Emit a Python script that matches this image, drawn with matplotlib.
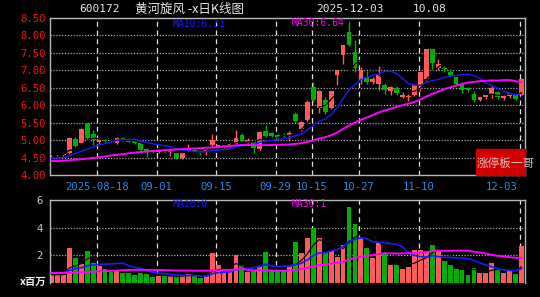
import matplotlib
matplotlib.use("Agg")
import matplotlib.pyplot as plt
import matplotlib.transforms as mtransforms
from matplotlib.patches import Rectangle
import numpy as np
import pandas as pd

# ---- data ----
code = "600172"
name = "黄河旋风 -x日K线图"
last_date = "2025-12-03"
last_value = "10.08"

opens = [4.56, 4.57, 4.58, 4.64, 5.02, 4.92, 5.50, 5.18, 4.95, 5.00,
         5.00, 4.92, 5.06, 5.04, 4.97, 4.91, 4.74, 4.71, 4.65, 4.71,
         4.66, 4.64, 4.48, 4.68, 4.73, 4.66, 4.65, 4.86, 4.78, 4.80,
         4.83, 4.90, 5.15, 4.95, 4.96, 4.74, 5.27, 5.20, 5.16, 5.16,
         5.15, 5.76, 5.32, 5.58, 6.52, 5.92, 6.14, 5.92, 6.88, 7.43,
         8.10, 7.52, 6.71, 6.82, 6.67, 6.62, 6.57, 6.42, 6.48, 6.25,
         6.25, 6.29, 6.58, 6.76, 7.60, 7.06, 7.06, 6.96, 6.80, 6.58,
         6.48, 6.31, 6.15, 6.25, 6.31, 6.37, 6.20, 6.27, 6.29, 6.30]
highs = [4.60, 4.61, 4.63, 5.08, 5.10, 5.36, 5.50, 5.28, 5.03, 5.03,
         5.03, 5.08, 5.08, 5.07, 5.00, 4.93, 4.76, 4.73, 4.74, 4.74,
         4.76, 4.66, 4.65, 4.89, 4.75, 4.68, 4.74, 5.18, 4.87, 4.84,
         4.92, 5.30, 5.20, 5.05, 4.98, 5.25, 5.42, 5.24, 5.18, 5.20,
         5.26, 5.80, 5.55, 6.14, 6.66, 6.45, 6.24, 6.42, 7.02, 7.73,
         8.42, 7.87, 7.10, 6.97, 6.82, 7.11, 6.65, 6.56, 6.56, 6.39,
         6.32, 6.60, 6.98, 7.62, 7.62, 7.32, 7.12, 7.05, 6.82, 6.66,
         6.52, 6.42, 6.25, 6.30, 6.56, 6.40, 6.30, 6.36, 6.32, 6.78]
lows = [4.53, 4.54, 4.55, 4.60, 4.80, 4.88, 5.00, 4.86, 4.90, 4.95,
        4.95, 4.90, 4.98, 4.94, 4.90, 4.67, 4.52, 4.64, 4.62, 4.64,
        4.55, 4.45, 4.46, 4.66, 4.64, 4.58, 4.57, 4.84, 4.74, 4.76,
        4.80, 4.88, 4.94, 4.93, 4.64, 4.72, 5.08, 5.08, 5.06, 5.08,
        4.98, 5.50, 5.25, 5.50, 6.10, 5.79, 5.74, 5.88, 6.57, 7.18,
        7.70, 6.94, 6.62, 6.62, 6.60, 6.44, 6.32, 6.30, 6.28, 6.20,
        6.12, 6.27, 6.40, 6.70, 7.04, 7.02, 6.94, 6.84, 6.54, 6.36,
        6.38, 6.10, 6.12, 6.18, 6.20, 6.18, 6.16, 6.22, 6.16, 6.28]
closes = [4.58, 4.59, 4.60, 5.06, 4.84, 5.32, 5.05, 5.00, 4.99, 4.97,
          4.98, 5.05, 5.00, 4.96, 4.92, 4.72, 4.70, 4.67, 4.72, 4.68,
          4.70, 4.48, 4.63, 4.76, 4.68, 4.62, 4.71, 5.00, 4.85, 4.82,
          4.89, 5.07, 4.98, 5.00, 4.78, 5.24, 5.12, 5.12, 5.10, 5.12,
          5.20, 5.56, 5.53, 6.08, 6.14, 6.42, 5.81, 6.40, 7.02, 7.72,
          7.72, 7.06, 7.00, 6.67, 6.76, 6.86, 6.43, 6.52, 6.36, 6.29,
          6.27, 6.57, 6.95, 7.60, 7.20, 7.18, 7.04, 6.86, 6.62, 6.43,
          6.43, 6.15, 6.23, 6.29, 6.48, 6.25, 6.26, 6.34, 6.18, 6.76]
# volume, millions of shares
volumes = [0.60, 0.60, 0.60, 2.55, 1.83, 1.40, 2.34, 1.47, 1.20, 1.00,
           0.80, 0.96, 0.75, 0.75, 0.60, 0.75, 0.65, 0.41, 0.48, 0.48,
           0.48, 0.48, 0.55, 0.67, 0.48, 0.36, 0.50, 2.17, 1.33, 0.72,
           0.80, 2.05, 1.33, 0.80, 0.90, 1.33, 2.24, 0.84, 0.84, 0.84,
           1.28, 2.96, 2.19, 3.28, 3.98, 3.28, 2.24, 2.29, 1.88, 2.72,
           5.47, 4.24, 3.28, 2.55, 1.81, 2.96, 2.19, 1.33, 1.33, 0.99,
           1.13, 2.36, 2.41, 2.24, 2.77, 2.34, 1.57, 1.28, 1.04, 0.92,
           0.60, 1.08, 0.70, 0.75, 1.47, 0.92, 0.75, 0.84, 0.67, 2.65]

# moving averages before the window is full (history is off-screen)
ma10_head = [4.48, 4.49, 4.50, 4.55, 4.62, 4.68, 4.74, 4.80, 4.86]
ma30_head = [4.40, 4.40, 4.41, 4.42, 4.44, 4.45, 4.47, 4.49, 4.51, 4.53,
             4.56, 4.58, 4.60, 4.62, 4.64, 4.66, 4.67, 4.69, 4.70, 4.71,
             4.72, 4.73, 4.74, 4.75, 4.76, 4.77, 4.78, 4.79, 4.80]
vma10_head = [0.75, 0.75, 0.74, 0.90, 1.05, 1.10, 1.25, 1.30, 1.35]
vma30_head = [0.72, 0.72, 0.73, 0.74, 0.76, 0.78, 0.80, 0.82, 0.84, 0.86,
              0.88, 0.90, 0.92, 0.94, 0.95, 0.95, 0.95, 0.95, 0.94, 0.93,
              0.92, 0.91, 0.90, 0.90, 0.89, 0.89, 0.89, 0.90, 0.91]

tick_dates = ["2025-08-18", "2025-09-01", "2025-09-15", "2025-09-29",
              "2025-10-15", "2025-10-27", "2025-11-10", "2025-12-03"]
tick_labels = ["2025-08-18", "09-01", "09-15", "09-29",
               "10-15", "10-27", "11-10", "12-03"]
price_ticks = [4.0, 4.5, 5.0, 5.5, 6.0, 6.5, 7.0, 7.5, 8.0, 8.5]
vol_ticks = [2, 4, 6]

ma10_label = "MA10:6.31"
ma30_label = "MA30:6.64"
vma10_label = "MA10:0"
vma30_label = "MA30:1"
badge = "涨停板一哥"
vol_unit = "x百万"

# trading days: weekdays without the October holiday
days = pd.bdate_range("2025-08-06", "2025-12-03")
days = days[(days < "2025-10-01") | (days > "2025-10-08")]
tick_idx = [days.get_loc(pd.Timestamp(d)) for d in tick_dates]


def ma(values, n, head):
    s = pd.Series(values).rolling(n).mean()
    s.iloc[:len(head)] = head
    return s.values


RED = "#ff5a5a"
GREEN = "#00b000"
BLUE = "#1a1aff"
MAGENTA = "#ff00ff"
FRAME = "#b8b8b8"
MONO = "DejaVu Sans Mono"
CJK = ["Noto Sans CJK SC", "DejaVu Sans"]

W, H = 540, 297
fig = plt.figure(figsize=(W / 100, H / 100), dpi=100, facecolor="black")


def ftext(x, y, s, **kw):
    fig.text(x / W, 1 - y / H, s, va="center", **kw)


x = np.arange(len(closes))
o = np.array(opens)
c = np.array(closes)
up = c >= o
colors = np.where(up, RED, GREEN)
xlim = (-0.25, 79.58)

# ---- price panel ----
ax = fig.add_axes([50 / W, 1 - 175 / H, 475 / W, 157 / H], facecolor="black")
ax.set_xlim(*xlim)
ax.set_ylim(4.0, 8.5)
for yv in price_ticks[1:-1]:
    ax.axhline(yv, color="#a8a8a8", lw=0.9, ls=(0, (1, 1.3)), zorder=1)
for i in tick_idx:
    ax.axvline(i - 0.3, color="#e0e0e0", lw=0.9, ls=(0, (4, 3)), zorder=1)

ax.vlines(x, lows, highs, colors=colors, lw=1, zorder=2)
ax.bar(x, np.maximum(np.abs(c - o), 0.012), bottom=np.minimum(o, c),
       width=0.8, color=colors, lw=0, zorder=3)
ax.plot(x, pd.Series(closes).rolling(5, min_periods=1).mean(), color="black", lw=0.9, zorder=4)
ax.plot(x, ma(closes, 10, ma10_head), color=BLUE, lw=1.0, zorder=4)
ax.plot(x, ma(closes, 30, ma30_head), color=MAGENTA, lw=1.4, zorder=4)

ax.set_yticks(price_ticks)
ax.set_yticklabels([f"{v:.2f}" for v in price_ticks], family=MONO, fontsize=7.6, color="#ff1010")
ax.set_xticks([i - 0.3 for i in tick_idx])
ax.set_xticklabels(tick_labels, family=MONO, fontsize=7.6, color="#2a8ae8")
ax.tick_params(length=0, pad=3)
ax.tick_params(axis="x", pad=5)
lab = ax.get_xticklabels()[-1]
lab.set_ha("right")
lab.set_transform(lab.get_transform() + mtransforms.ScaledTranslation(-0.02, 0, fig.dpi_scale_trans))
for sp in ax.spines.values():
    sp.set_color(FRAME)
    sp.set_linewidth(1)

# ---- volume panel ----
axv = fig.add_axes([50 / W, 1 - 283 / H, 475 / W, 83 / H], facecolor="black")
axv.set_xlim(*xlim)
axv.set_ylim(0, 6)
for yv in vol_ticks[:-1]:
    axv.axhline(yv, color="#a8a8a8", lw=0.9, ls=(0, (1, 1.3)), zorder=1)
for i in tick_idx:
    axv.axvline(i - 0.3, color="#e0e0e0", lw=0.9, ls=(0, (4, 3)), zorder=1)
axv.bar(x, volumes, width=0.82, color=colors, lw=0, zorder=2)
axv.plot(x, pd.Series(volumes).rolling(5, min_periods=1).mean(), color="#101010", lw=0.9, zorder=3)
axv.plot(x, ma(volumes, 10, vma10_head), color=BLUE, lw=1.2, zorder=3)
axv.plot(x, ma(volumes, 30, vma30_head), color=MAGENTA, lw=1.4, zorder=3)
axv.set_xticks([])
axv.set_yticks(vol_ticks)
axv.set_yticklabels([str(v) for v in vol_ticks], family=MONO, fontsize=7.6, color="#c8c8c8")
axv.tick_params(length=0, pad=5)
for sp in axv.spines.values():
    sp.set_color(FRAME)
    sp.set_linewidth(1)
axv.spines["bottom"].set_visible(False)

# ---- texts ----
ftext(79, 9, code, family=MONO, fontsize=8, color="#e6e6e6")
ftext(135, 9, name, family=CJK, fontsize=9, color="#e6e6e6")
ftext(316, 9, last_date, family=MONO, fontsize=8, color="#e6e6e6")
ftext(413, 9, last_value, family=MONO, fontsize=8, color="#e6e6e6")
ftext(173, 24, ma10_label, family=MONO, fontsize=7, color=BLUE)
ftext(292, 23, ma30_label, family=MONO, fontsize=7, color=MAGENTA)
ftext(173, 204, vma10_label, family=MONO, fontsize=7, color=BLUE)
ftext(292, 204, vma30_label, family=MONO, fontsize=7, color=MAGENTA)
ftext(20, 282, vol_unit, family=CJK, fontsize=7.5, color="#f0f0f0", weight="bold")

fig.patches.append(Rectangle((476 / W, 1 - 175 / H), 49 / W, 26 / H,
                             transform=fig.transFigure, color="#d00000", zorder=5))
ftext(477, 163, badge, family=CJK, fontsize=8.4, color="#e8e8e8", alpha=0.8, zorder=6)

fig.savefig("out.png", dpi=100, facecolor="black")
